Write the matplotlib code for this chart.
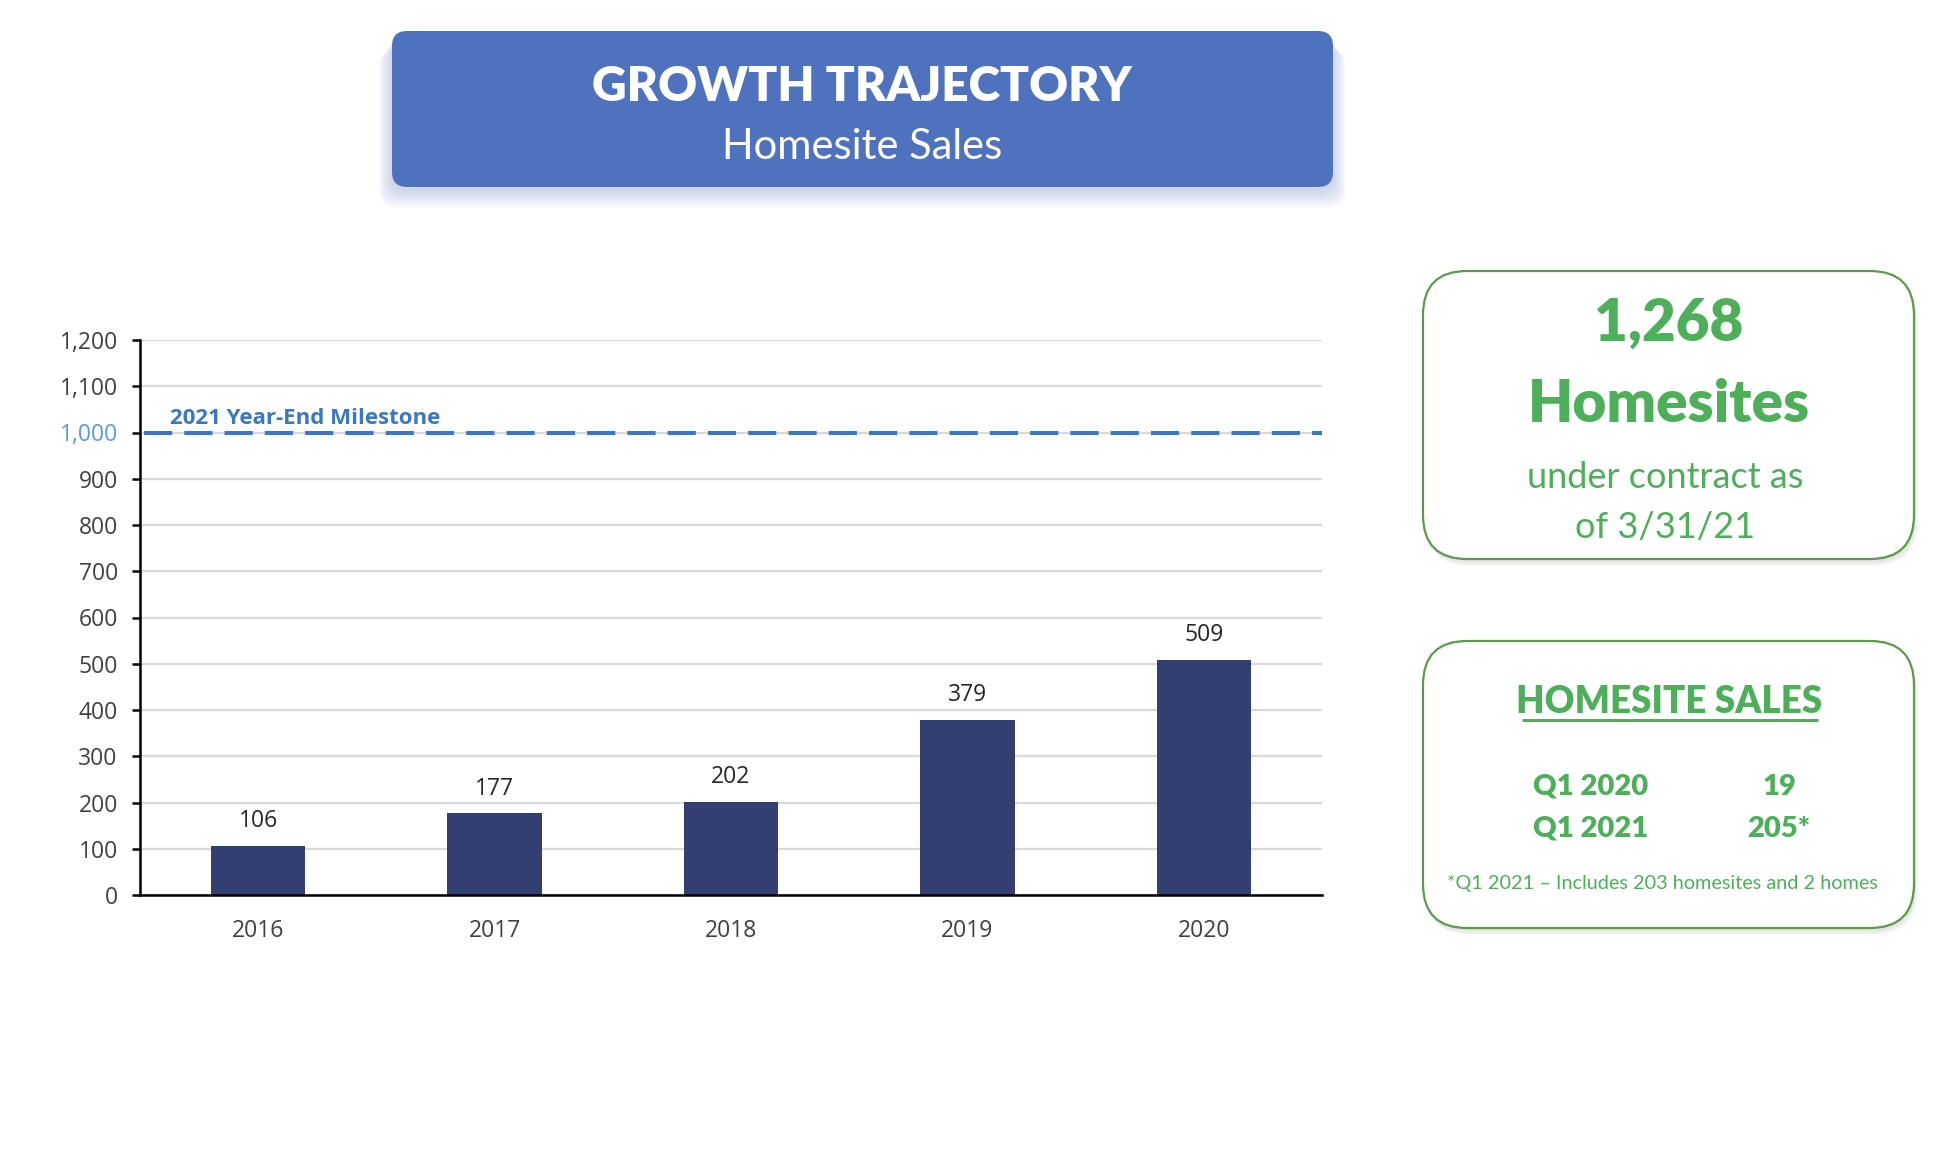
import matplotlib.pyplot as plt
from matplotlib.patches import FancyBboxPatch

years = ['2016', '2017', '2018', '2019', '2020']
sales = [106, 177, 202, 379, 509]
yticks = [0, 100, 200, 300, 400, 500, 600, 700, 800, 900, 1000, 1100, 1200]
milestone = 1000

q_labels = ['Q1 2020', 'Q1 2021']
q_values = ['19', '205*']

BAR = '#333F70'
BLUE = '#3A78C3'
GREEN = '#4EAF5A'
EDGE = '#5B9B4B'
TITLE_BG = '#4F72BF'

fig = plt.figure(figsize=(19.44, 11.5), dpi=100)

# overlay in pixel units for the boxes
bg = fig.add_axes([0, 0, 1, 1], zorder=0)
bg.set_xlim(0, 1944)
bg.set_ylim(1150, 0)
bg.axis('off')

# title box with soft shadow
for k in range(1, 12):
    bg.add_patch(FancyBboxPatch((392 - k * 1.2, 34 + k * 1.6), 941 + k * 2.4, 156,
                                boxstyle='round,pad=0,rounding_size=16',
                                fc='#7F95D0', ec='none', alpha=0.035))
bg.add_patch(FancyBboxPatch((392, 31), 941, 156, boxstyle='round,pad=0,rounding_size=15',
                            fc=TITLE_BG, ec='none'))
bg.text(862, 87, 'GROWTH TRAJECTORY', family='Lato', weight='heavy', fontsize=34.5,
        color='white', ha='center', va='center')
bg.text(862, 147, 'Homesite Sales', family='Lato', fontsize=30,
        color='white', ha='center', va='center')


def green_box(x, y, w, h):
    for k in range(1, 7):
        bg.add_patch(FancyBboxPatch((x + k * 0.6, y + k * 1.2), w, h,
                                    boxstyle='round,pad=0,rounding_size=44',
                                    fc='#909090', ec='none', alpha=0.05))
    bg.add_patch(FancyBboxPatch((x, y), w, h, boxstyle='round,pad=0,rounding_size=44',
                                fc='white', ec=EDGE, lw=1.6))


green_box(1423, 271, 491, 288)
bg.text(1669, 323, '1,268', family='Lato', weight='heavy', fontsize=42, color=GREEN,
        ha='center', va='center')
bg.text(1669, 404, 'Homesites', family='Lato', weight='heavy', fontsize=42, color=GREEN,
        ha='center', va='center')
bg.text(1665, 477, 'under contract as', family='Lato', fontsize=26, color=GREEN,
        ha='center', va='center')
bg.text(1665, 528, 'of 3/31/21', family='Lato', fontsize=26, color=GREEN,
        ha='center', va='center')

green_box(1423, 641, 491, 287)
bg.text(1669, 702, 'HOMESITE SALES', family='Lato', weight='heavy', fontsize=26.5, color=GREEN,
        ha='center', va='center')
bg.plot([1522, 1818], [720, 720], color=GREEN, lw=2.2, solid_capstyle='butt')
for i, (lab, val) in enumerate(zip(q_labels, q_values)):
    yy = 787 + i * 42
    bg.text(1591, yy, lab, family='Lato', weight='heavy', fontsize=21, color=GREEN,
            ha='center', va='center')
    bg.text(1779, yy, val, family='Lato', weight='heavy', fontsize=21, color=GREEN,
            ha='center', va='center')
bg.text(1662, 883, '*Q1 2021 \u2013 Includes 203 homesites and 2 homes', family='Lato',
        fontsize=14.3, color=GREEN, ha='center', va='center')

# bar chart
ax = fig.add_axes([140 / 1944, 1 - 895 / 1150, 1182 / 1944, 555 / 1150], zorder=1)
ax.set_facecolor('none')
x = list(range(len(years)))
bars = ax.bar(x, sales, width=0.4, color=BAR, zorder=3)
ax.bar_label(bars, labels=[str(v) for v in sales], padding=9, fontsize=16.5,
             family='Open Sans', color='#262626')
ax.axhline(milestone, xmin=0.003, xmax=1, color=BLUE, lw=2.9, dashes=(7, 3), zorder=4)
ax.text(0.025, milestone + 18, '2021 Year-End Milestone', transform=ax.get_yaxis_transform(),
        family='Open Sans', weight='bold', fontsize=16, color=BLUE, va='baseline')

ax.set_xlim(-0.5, 4.5)
ax.set_ylim(0, 1200)
ax.set_yticks(yticks)
ax.set_yticklabels([f'{v:,}' for v in yticks], family='Open Sans', fontsize=16.5,
                   color='#404040')
ax.get_yticklabels()[yticks.index(milestone)].set_color('#5B9BD5')
ax.set_xticks(x)
ax.set_xticklabels(years, family='Open Sans', fontsize=16.5, color='#404040')
ax.tick_params(axis='x', length=0, pad=17)
ax.tick_params(axis='y', length=6, width=1.8, pad=10, color='black')
ax.grid(axis='y', color='#D9D9D9', lw=1.6, zorder=0)
for s in ['top', 'right']:
    ax.spines[s].set_visible(False)
for s in ['left', 'bottom']:
    ax.spines[s].set_linewidth(1.8)
    ax.spines[s].set_color('black')
    ax.spines[s].set_zorder(5)

fig.savefig('out.png', dpi=100)
